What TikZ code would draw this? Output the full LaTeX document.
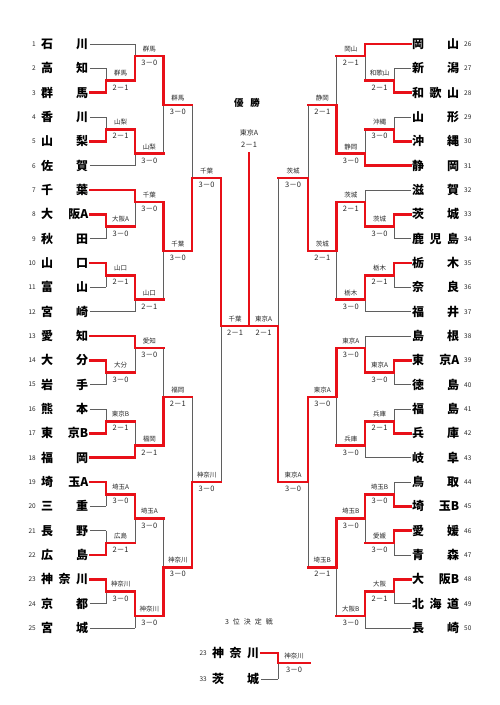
\documentclass[tikz,border=0pt]{standalone}
\usepackage{fontspec}
\setmainfont{Noto Sans CJK JP}
\usetikzlibrary{calc}
\pgfdeclarelayer{bg}
\pgfdeclarelayer{paper}
\pgfsetlayers{paper,bg,main}
\definecolor{wred}{RGB}{232,16,24}
\definecolor{lgray}{RGB}{95,95,95}
\definecolor{txt}{RGB}{40,40,40}
\tikzset{
 gl/.style={draw=lgray, line width=0.8pt},
 rl/.style={draw=wred, line width=2.6pt, line cap=rect},
 team/.style={inner sep=0pt, font=\fontsize{12}{12}\selectfont\bfseries, text=black, text height=10pt, text depth=0.9pt},
 num/.style={inner sep=0pt, font=\fontsize{6.5}{6.5}\selectfont, text=txt},
 wl/.style={inner sep=0pt, font=\fontsize{6.5}{6.5}\selectfont, text=txt},
 sc/.style={inner sep=0pt, font=\fontsize{7.5}{7.5}\selectfont, text=txt},
}
\newcommand\tnm[2]{\makebox[47pt]{#1\hfill #2}}
% match: id, xv, xnext, ya, yb, yout, ywinner, label, score
\newcommand\M[9]{%
 \coordinate (#1-a) at (#2,#4);
 \coordinate (#1-b) at (#2,#5);
 \coordinate (#1-o) at (#2,#6);
 \coordinate (#1-n) at (#3,#6);
 \coordinate (#1-w) at (#2,#7);
 \begin{pgfonlayer}{bg}\draw[gl] (#1-a) -- (#1-b);\end{pgfonlayer}
 \draw[rl] (#1-w) -- (#1-o) -- (#1-n);
 \node[wl] (#1-l) at ($(#1-o)!0.5!(#1-n)+(0,-7)$) {#8};
 \node[sc] (#1-s) at ($(#1-o)!0.5!(#1-n)+(0,7)$) {#9};
}
% left team: id, num, name, y, target ; g = gray, r = red
\newcommand\TLg[5]{%
 \node[team, anchor=west] (#1) at (41,#4) {#3};
 \node[num, anchor=east] (#1n) at (36,#4) {#2};
 \begin{pgfonlayer}{bg}\draw[gl] ([xshift=1.5pt]#1.east) -- (#5);\end{pgfonlayer}
}
\newcommand\TLr[5]{%
 \node[team, anchor=west] (#1) at (41,#4) {#3};
 \node[num, anchor=east] (#1n) at (36,#4) {#2};
 \draw[rl] ([xshift=1.5pt]#1.east) -- (#5);
}
\newcommand\TRg[5]{%
 \node[team, anchor=west] (#1) at (412,#4) {#3};
 \node[num, anchor=west] (#1n) at (464,#4) {#2};
 \begin{pgfonlayer}{bg}\draw[gl] ([xshift=-1.5pt]#1.west) -- (#5);\end{pgfonlayer}
}
\newcommand\TRr[5]{%
 \node[team, anchor=west] (#1) at (412,#4) {#3};
 \node[num, anchor=west] (#1n) at (464,#4) {#2};
 \draw[rl] ([xshift=-1.5pt]#1.west) -- (#5);
}
\begin{document}
\begin{tikzpicture}[x=1pt, y=-1pt]
\begin{pgfonlayer}{paper}\fill[white] (0,0) rectangle (500,705);\end{pgfonlayer}
\useasboundingbox (0,0) rectangle (500,705);
% ---------------- left half ----------------
\M{La}{106}{135}{68.3}{92.7}{80.5}{92.7}{群馬}{2－1}
\M{Lb}{106}{135}{117}{141.3}{129.2}{141.3}{山梨}{2－1}
\M{Lc}{106}{135}{214.3}{238.7}{226.5}{214.3}{大阪A}{3－0}
\M{Ld}{106}{135}{263}{287.3}{275.2}{263}{山口}{2－1}
\M{Le}{106}{135}{360.3}{384.7}{372.5}{360.3}{大分}{3－0}
\M{Lf}{106}{135}{409}{433.3}{421.2}{433.3}{東京B}{2－1}
\M{Lg}{106}{135}{482}{506.3}{494.2}{482}{埼玉A}{3－0}
\M{Lh}{106}{135}{530.7}{555}{542.8}{555}{広島}{2－1}
\M{Li}{106}{135}{579.3}{603.7}{591.5}{579.3}{神奈川}{3－0}
\M{Lj}{135}{163.5}{44}{80.5}{56}{80.5}{群馬}{3－0}
\M{Lk}{135}{163.5}{129.2}{165.7}{153.7}{129.2}{山梨}{3－0}
\M{Ll}{135}{163.5}{190}{226.5}{202}{190}{千葉}{3－0}
\M{Lm}{135}{163.5}{275.2}{311.7}{299.7}{275.2}{山口}{2－1}
\M{Ln}{135}{163.5}{336}{372.5}{348}{336}{愛知}{3－0}
\M{Lo}{135}{163.5}{421.2}{457.7}{445.7}{457.7}{福岡}{2－1}
\M{Lp}{135}{163.5}{494.2}{542.8}{518.5}{494.2}{埼玉A}{3－0}
\M{Lq}{135}{163.5}{591.5}{628}{616}{591.5}{神奈川}{3－0}
\M{Lr}{163.5}{192}{56}{153.7}{104.8}{56}{群馬}{3－0}
\M{Ls}{163.5}{192}{202}{299.7}{250.8}{202}{千葉}{3－0}
\M{Lt}{163.5}{192}{348}{445.7}{396.8}{445.7}{福岡}{2－1}
\M{Lu}{163.5}{192}{518.5}{616}{567.2}{616}{神奈川}{3－0}
\M{Lv}{192}{221}{104.8}{250.8}{177.8}{250.8}{千葉}{3－0}
\M{Lw}{192}{221}{396.8}{567.2}{482}{567.2}{神奈川}{3－0}
\M{Lx}{221}{249}{177.8}{482}{326}{177.8}{千葉}{2－1}
\TLg{t1}{1}{\tnm{石}{川}}{44}{Lj-a}
\TLg{t2}{2}{\tnm{高}{知}}{68.3}{La-a}
\TLr{t3}{3}{\tnm{群}{馬}}{92.7}{La-b}
\TLg{t4}{4}{\tnm{香}{川}}{117}{Lb-a}
\TLr{t5}{5}{\tnm{山}{梨}}{141.3}{Lb-b}
\TLg{t6}{6}{\tnm{佐}{賀}}{165.7}{Lk-b}
\TLr{t7}{7}{\tnm{千}{葉}}{190}{Ll-a}
\TLr{t8}{8}{\tnm{大}{阪A}}{214.3}{Lc-a}
\TLg{t9}{9}{\tnm{秋}{田}}{238.7}{Lc-b}
\TLr{t10}{10}{\tnm{山}{口}}{263}{Ld-a}
\TLg{t11}{11}{\tnm{富}{山}}{287.3}{Ld-b}
\TLg{t12}{12}{\tnm{宮}{崎}}{311.7}{Lm-b}
\TLr{t13}{13}{\tnm{愛}{知}}{336}{Ln-a}
\TLr{t14}{14}{\tnm{大}{分}}{360.3}{Le-a}
\TLg{t15}{15}{\tnm{岩}{手}}{384.7}{Le-b}
\TLg{t16}{16}{\tnm{熊}{本}}{409}{Lf-a}
\TLr{t17}{17}{\tnm{東}{京B}}{433.3}{Lf-b}
\TLr{t18}{18}{\tnm{福}{岡}}{457.7}{Lo-b}
\TLr{t19}{19}{\tnm{埼}{玉A}}{482}{Lg-a}
\TLg{t20}{20}{\tnm{三}{重}}{506.3}{Lg-b}
\TLg{t21}{21}{\tnm{長}{野}}{530.7}{Lh-a}
\TLr{t22}{22}{\tnm{広}{島}}{555}{Lh-b}
\TLr{t23}{23}{\tnm{神\hfill 奈}{川}}{579.3}{Li-a}
\TLg{t24}{24}{\tnm{京}{都}}{603.7}{Li-b}
\TLg{t25}{25}{\tnm{宮}{城}}{628}{Lq-b}
% ---------------- right half ----------------
\M{Ra}{394}{365}{68.3}{92.7}{80.5}{92.7}{和歌山}{2－1}
\M{Rb}{394}{365}{117}{141.3}{129.2}{141.3}{沖縄}{3－0}
\M{Rc}{394}{365}{214.3}{238.7}{226.5}{214.3}{茨城}{3－0}
\M{Rd}{394}{365}{263}{287.3}{275.2}{263}{栃木}{2－1}
\M{Re}{394}{365}{360.3}{384.7}{372.5}{360.3}{東京A}{3－0}
\M{Rf}{394}{365}{409}{433.3}{421.2}{433.3}{兵庫}{2－1}
\M{Rg}{394}{365}{482}{506.3}{494.2}{506.3}{埼玉B}{3－0}
\M{Rh}{394}{365}{530.7}{555}{542.8}{530.7}{愛媛}{3－0}
\M{Ri}{394}{365}{579.3}{603.7}{591.5}{579.3}{大阪}{2－1}
\M{Rj}{365}{336.5}{44}{80.5}{56}{44}{岡山}{2－1}
\M{Rk}{365}{336.5}{129.2}{165.7}{153.7}{165.7}{静岡}{3－0}
\M{Rl}{365}{336.5}{190}{226.5}{202}{226.5}{茨城}{2－1}
\M{Rm}{365}{336.5}{275.2}{311.7}{299.7}{275.2}{栃木}{3－0}
\M{Rn}{365}{336.5}{336}{372.5}{348}{372.5}{東京A}{3－0}
\M{Ro}{365}{336.5}{421.2}{457.7}{445.7}{421.2}{兵庫}{3－0}
\M{Rp}{365}{336.5}{494.2}{542.8}{518.5}{494.2}{埼玉B}{3－0}
\M{Rq}{365}{336.5}{591.5}{628}{616}{591.5}{大阪B}{3－0}
\M{Rr}{336.5}{308}{56}{153.7}{104.8}{153.7}{静岡}{2－1}
\M{Rs}{336.5}{308}{202}{299.7}{250.8}{202}{茨城}{2－1}
\M{Rt}{336.5}{308}{348}{445.7}{396.8}{348}{東京A}{3－0}
\M{Ru}{336.5}{308}{518.5}{616}{567.2}{518.5}{埼玉B}{2－1}
\M{Rv}{308}{278}{104.8}{250.8}{177.8}{250.8}{茨城}{3－0}
\M{Rw}{308}{278}{396.8}{567.2}{482}{396.8}{東京A}{3－0}
\M{Rx}{278}{249}{177.8}{482}{326}{482}{東京A}{2－1}
\TRr{t26}{26}{\tnm{岡}{山}}{44}{Rj-a}
\TRg{t27}{27}{\tnm{新}{潟}}{68.3}{Ra-a}
\TRr{t28}{28}{\tnm{和\hfill 歌}{山}}{92.7}{Ra-b}
\TRg{t29}{29}{\tnm{山}{形}}{117}{Rb-a}
\TRr{t30}{30}{\tnm{沖}{縄}}{141.3}{Rb-b}
\TRr{t31}{31}{\tnm{静}{岡}}{165.7}{Rk-b}
\TRg{t32}{32}{\tnm{滋}{賀}}{190}{Rl-a}
\TRr{t33}{33}{\tnm{茨}{城}}{214.3}{Rc-a}
\TRg{t34}{34}{\tnm{鹿\hfill 児}{島}}{238.7}{Rc-b}
\TRr{t35}{35}{\tnm{栃}{木}}{263}{Rd-a}
\TRg{t36}{36}{\tnm{奈}{良}}{287.3}{Rd-b}
\TRg{t37}{37}{\tnm{福}{井}}{311.7}{Rm-b}
\TRg{t38}{38}{\tnm{島}{根}}{336}{Rn-a}
\TRr{t39}{39}{\tnm{東}{京A}}{360.3}{Re-a}
\TRg{t40}{40}{\tnm{徳}{島}}{384.7}{Re-b}
\TRg{t41}{41}{\tnm{福}{島}}{409}{Rf-a}
\TRr{t42}{42}{\tnm{兵}{庫}}{433.3}{Rf-b}
\TRg{t43}{43}{\tnm{岐}{阜}}{457.7}{Ro-b}
\TRg{t44}{44}{\tnm{鳥}{取}}{482}{Rg-a}
\TRr{t45}{45}{\tnm{埼}{玉B}}{506.3}{Rg-b}
\TRr{t46}{46}{\tnm{愛}{媛}}{530.7}{Rh-a}
\TRg{t47}{47}{\tnm{青}{森}}{555}{Rh-b}
\TRr{t48}{48}{\tnm{大}{阪B}}{579.3}{Ri-a}
\TRg{t49}{49}{\tnm{北\hfill 海}{道}}{603.7}{Ri-b}
\TRg{t50}{50}{\tnm{長}{崎}}{628}{Rq-b}
% ---------------- final ----------------
\coordinate (F) at (249,153);
\draw[rl] (Lx-n) -- (F);
\node[wl, font=\fontsize{7}{7}\selectfont] (fw) at (249,133) {東京A};
\node[sc] (fs) at (249,145) {2－1};
\node[inner sep=0pt, font=\fontsize{9.5}{9.5}\selectfont\bfseries] (champ) at (247,103) {優\hspace{7pt}勝};
% ---------------- 3rd place ----------------
\node[wl, font=\fontsize{7}{7}\selectfont] (third) at (249,622) {3\hspace{4pt}位\hspace{4pt}決\hspace{4pt}定\hspace{4pt}戦};
\M{Z}{278}{310}{653}{679}{663}{653}{神奈川}{3－0}
\node[team, anchor=west] (u1) at (212,653) {\tnm{神\hfill 奈}{川}};
\node[num, anchor=east] (u1n) at (207,653) {23};
\draw[rl] ([xshift=2pt]u1.east) -- (Z-a);
\node[team, anchor=west] (u2) at (212,679) {\tnm{茨}{城}};
\node[num, anchor=east] (u2n) at (207,679) {33};
\begin{pgfonlayer}{bg}\draw[gl] ([xshift=2pt]u2.east) -- (Z-b);\end{pgfonlayer}
\end{tikzpicture}
\end{document}
